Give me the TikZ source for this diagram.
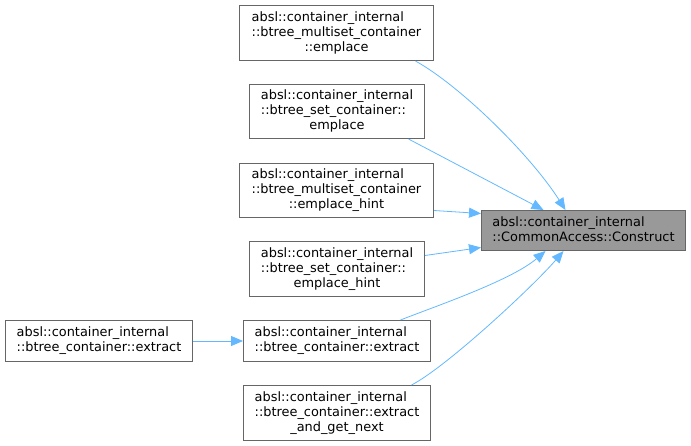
\documentclass[tikz,border=0pt]{standalone}
\usepackage{fontspec}
\setmainfont{DejaVu Sans}
\usetikzlibrary{arrows.meta,calc}
\definecolor{edgeblue}{HTML}{63B8FF}
\definecolor{boxgray}{HTML}{666666}
\definecolor{fillgray}{HTML}{999999}
\newcommand{\boxlines}[1]{\begin{tabular}{@{}l@{}}#1\end{tabular}}
\newcommand{\midline}[1]{\multicolumn{1}{@{}c@{}}{#1}}
\begin{document}
\begin{tikzpicture}[x=1pt,y=-1pt,
  box/.style={draw=boxgray, line width=1pt, fill=white, inner sep=0pt,
    font=\fontsize{12.9}{15}\selectfont, anchor=north west},
  edge/.style={draw=edgeblue, line width=0.8pt,
    -{Triangle[length=12pt,width=10pt]}}]
\useasboundingbox (0,0) rectangle (691,445);
\node[box, minimum width=194, minimum height=55] (b1) at (239,5)
  {\boxlines{absl::container\_internal\\::btree\_multiset\_container\\\midline{::emplace}}};
\node[box, minimum width=175, minimum height=54] (b2) at (249,84)
  {\boxlines{absl::container\_internal\\::btree\_set\_container::\\\midline{emplace}}};
\node[box, minimum width=194, minimum height=54] (b3) at (239,163)
  {\boxlines{absl::container\_internal\\::btree\_multiset\_container\\\midline{::emplace\_hint}}};
\node[box, minimum width=175, minimum height=55] (b4) at (249,241)
  {\boxlines{absl::container\_internal\\::btree\_set\_container::\\\midline{emplace\_hint}}};
\node[box, minimum width=187, minimum height=41] (b5) at (243,320)
  {\boxlines{absl::container\_internal\\::btree\_container::extract}};
\node[box, minimum width=187, minimum height=55] (b6) at (243,385)
  {\boxlines{absl::container\_internal\\::btree\_container::extract\\\midline{\_and\_get\_next}}};
\node[box, minimum width=187, minimum height=41] (b7) at (5,320)
  {\boxlines{absl::container\_internal\\::btree\_container::extract}};
\node[box, fill=fillgray, minimum width=204, minimum height=40] (t) at (481,210)
  {\boxlines{absl::container\_internal\\::CommonAccess::Construct}};
\draw[edge] ([xshift=79pt]b1.south) .. controls +(45,25) and +(-35,-55) .. ([xshift=-18pt]t.north);
\draw[edge] ([xshift=71.5pt]b2.south) -- ([xshift=-40pt]t.north);
\draw[edge] ([yshift=-20pt]b3.east) -- ([yshift=17pt]t.west);
\draw[edge] ([yshift=13.5pt]b4.east) -- ([yshift=-17pt]t.west);
\draw[edge] ([xshift=63.5pt]b5.north) .. controls +(30,-12) and +(-35,30) .. ([xshift=-38pt]t.south);
\draw[edge] ([xshift=74.5pt]b6.north) .. controls +(35,-18) and +(-30,35) .. ([xshift=-20pt]t.south);
\draw[edge] (b7.east) -- (b5.west);
\end{tikzpicture}
\end{document}
